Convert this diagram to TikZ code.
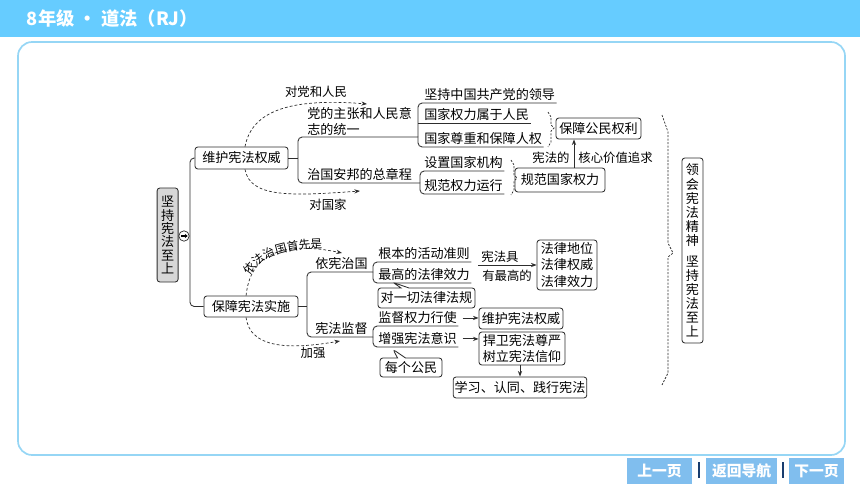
\documentclass[tikz,border=0pt]{standalone}
\usepackage{fontspec}
\setmainfont{Noto Sans CJK SC}
\usetikzlibrary{arrows.meta,shapes.callouts,decorations.text}
\definecolor{barblue}{RGB}{102,204,255}
\definecolor{frameblue}{RGB}{150,214,245}
\definecolor{btnblue}{RGB}{128,190,238}
\definecolor{sepblue}{RGB}{25,60,110}
\definecolor{ink}{RGB}{45,45,45}
\definecolor{greybox}{RGB}{215,215,215}
\tikzset{
  box/.style={draw=ink, fill=white, line width=0.6pt, rounded corners=2pt, inner sep=1pt, minimum height=0.525cm},
  lbl/.style={anchor=south west, inner xsep=1pt, inner ysep=1.2pt},
  brk/.style={draw=ink, line width=0.6pt, rounded corners=3pt},
  arr/.style={draw=ink, line width=0.6pt, -{Stealth[length=4pt,width=3pt]}},
  dsh/.style={draw=ink, line width=0.5pt, dash pattern=on 2pt off 1.5pt, -{Stealth[length=4pt,width=3pt]}},
  brc/.style={draw=ink, line width=0.5pt, dash pattern=on 1.5pt off 1pt},
  note/.style={font=\fontsize{8.8}{10}\selectfont, inner sep=1pt},
  btn/.style={fill=btnblue, text=white, font=\fontsize{10.5}{12}\selectfont\bfseries, minimum height=0.65cm, inner sep=0pt},
  vtxt/.style={align=center, inner sep=1pt}
}
\begin{document}
\begin{tikzpicture}[font=\fontsize{9.3}{10.7}\selectfont]
\useasboundingbox (0,0) rectangle (21.5,-12.1);
\fill[barblue] (0,0) rectangle (21.5,-0.925);
\node[anchor=west, text=white, font=\fontsize{13}{15}\selectfont\bfseries] (title) at (0.55,-0.475) {8年级 · 道法（RJ）};
\draw[frameblue, line width=1.2pt, rounded corners=10pt] (0.45,-1.05) rectangle (21.125,-11.375);
\node[btn, minimum width=1.625cm] (prev) at (16.49,-11.775) {上一页};
\node[btn, minimum width=1.775cm] (menu) at (18.54,-11.775) {返回导航};
\node[btn, minimum width=1.375cm] (next) at (20.41,-11.775) {下一页};
\fill[sepblue] (17.44,-11.55) rectangle (17.51,-11.95);
\fill[sepblue] (19.54,-11.55) rectangle (19.61,-11.95);

% root
\node[box, vtxt, fill=greybox, minimum width=0.525cm, minimum height=2.35cm, font={\fontsize{9.3}{9.5}\selectfont\lineskiplimit=-5pt\relax}] (jc) at (4.19,-5.875) {坚\\持\\宪\\法\\至\\上};
\node[circle, draw=ink, line width=0.5pt, minimum size=0.26cm, inner sep=0pt] (go) at (4.6,-5.9) {};
\draw[line width=0.8pt, -{Stealth[length=2pt,width=3pt]}] ([xshift=-2.2pt]go.center) -- ([xshift=2.6pt]go.center);
\node[box, minimum width=2.325cm, minimum height=0.55cm] (wh) at (6.0375,-3.95) {维护宪法权威};
\node[box, minimum width=2.35cm] (bs) at (6.275,-7.6625) {保障宪法实施};
\coordinate (spine) at (4.75,-5.9);
\draw[brk] (wh.west) -| (spine) |- (bs.west);

% upper half
\coordinate (j1) at (7.45,-3.95);
\coordinate (j2) at (10.45,-3.425);
\coordinate (j3) at (10.5,-4.575);
\draw[brk] (wh.east) -- (j1);
\draw[brk] (j1) |- (j2);
\draw[brk] (j1) |- (j3);
\node[lbl, align=left] (dz) at (7.64,-3.425) {党的主张和人民意\\志的统一};
\node[lbl] (zg) at (7.64,-4.575) {治国安邦的总章程};
\node[lbl] (t1) at (10.565,-2.575) {坚持中国共产党的领导};
\node[lbl] (t2) at (10.565,-3.075) {国家权力属于人民};
\node[lbl] (t3) at (10.565,-3.675) {国家尊重和保障人权};
\draw[brk] (j2) |- (t1.south east);
\draw[brk] (j2 |- t2.south) -- (t2.south east);
\draw[brk] (j2) |- (t3.south east);
\node[lbl] (sz) at (10.565,-4.275) {设置国家机构};
\node[lbl] (gy) at (10.565,-4.85) {规范权力运行};
\draw[brk] (j3) |- (sz.south east);
\draw[brk] (j3) |- (gy.south east);
\node[box, minimum width=2.125cm] (gm) at (14.9625,-3.2125) {保障公民权利};
\node[box, minimum width=2.25cm, minimum height=0.6cm] (gq) at (14.0,-4.5) {规范国家权力};
\draw[brc] (13.7,-2.8) -- (13.775,-2.925) -- (13.775,-3.125) -- (13.85,-3.2) -- (13.775,-3.275) -- (13.775,-3.55) -- (13.7,-3.675);
\draw[brc] (12.775,-4.0) -- (12.85,-4.125) -- (12.85,-4.375) -- (12.925,-4.45) -- (12.85,-4.525) -- (12.85,-4.75) -- (12.775,-4.875);
\draw[arr] ([xshift=0.35cm]gq.north) -- ([xshift=0.35cm]gq.north |- gm.south);
\node[note, anchor=east] (xfd) at (14.28,-3.95) {宪法的};
\node[note, anchor=west] (hx) at (14.42,-3.95) {核心价值追求};
\coordinate (e1) at (9.175,-2.6);
\coordinate (e2) at (9.0,-4.775);
\draw[dsh] ([xshift=2.5pt]wh.north) .. controls (6.3,-2.75) and (7.3,-2.45) .. (e1);
\draw[dsh] ([xshift=2.5pt]wh.south) .. controls (6.25,-4.95) and (7.3,-4.9) .. (e2);
\node[note] (dd) at (7.9,-2.3) {对党和人民};
\node[note] (dg) at (8.2,-5.125) {对国家};

% lower half
\coordinate (j4) at (7.675,-7.6625);
\coordinate (j5) at (9.325,-6.8);
\coordinate (j6) at (9.325,-8.425);
\draw[brk] (bs.east) -- (j4);
\draw[brk] (j4) |- (j5);
\draw[brk] (j4) |- (j6);
\node[lbl] (yx) at (7.84,-6.8) {依宪治国};
\node[lbl] (xj) at (7.84,-8.425) {宪法监督};
\node[lbl] (gb) at (9.415,-6.55) {根本的活动准则};
\node[lbl] (zf) at (9.415,-7.075) {最高的法律效力};
\draw[brk] (j5) |- (gb.south east);
\draw[brk] (j5) |- (zf.south east);
\node[box, rectangle callout, callout absolute pointer={(9.825,-7.06)}, callout pointer width=0.2cm, minimum width=2.425cm, minimum height=0.5cm] (dy) at (10.6625,-7.45) {对一切法律法规};
\node[box, align=center, minimum width=1.5cm, minimum height=1.25cm, font=\fontsize{9.3}{12}\selectfont] (fl) at (14.175,-6.625) {法律地位\\法律权威\\法律效力};
\coordinate (s0) at (11.95,-6.625);
\draw[arr] (s0) -- (fl.west);
\node[note] (jy) at (12.5,-6.425) {宪法具};
\node[note] (yz) at (12.675,-6.9) {有最高的};
\node[lbl] (jd) at (9.415,-8.15) {监督权力行使};
\node[lbl] (zq) at (9.415,-8.675) {增强宪法意识};
\draw[brk] (j6) |- (jd.south east);
\draw[brk] (j6) |- (zq.south east);
\node[box, minimum width=2.1cm] (wq) at (13.025,-7.9625) {维护宪法权威};
\node[box, align=center, minimum width=2.15cm, minimum height=0.825cm, font=\fontsize{9.3}{12}\selectfont] (hw) at (13.05,-8.7125) {捍卫宪法尊严\\树立宪法信仰};
\draw[arr] ([xshift=3pt]jd.east) -- (jd.east -| wq.west);
\draw[arr] ([xshift=3pt]zq.east) -- (zq.east -| hw.west);
\node[box, rectangle callout, callout absolute pointer={(9.825,-8.735)}, callout pointer width=0.2cm, minimum width=1.55cm, minimum height=0.475cm] (mg) at (10.275,-9.1875) {每个公民};
\node[box, minimum width=3.15cm] (xx) at (13.0,-9.6875) {学习、认同、践行宪法};
\draw[arr] (xx.north |- hw.south) -- (xx.north);
\coordinate (e3) at (8.55,-6.325);
\coordinate (e4) at (8.5,-8.525);
\draw[dsh] ([xshift=-3.5pt]bs.north) .. controls (6.25,-6.4) and (7.0,-6.0) .. (e3);
\draw[dsh] ([xshift=-3.5pt]bs.south) .. controls (6.25,-8.7) and (7.2,-8.75) .. (e4);
\path[decorate, decoration={text along path, text={|\fontsize{8.3}{10}\selectfont|依法治国首先是}}] (6.24,-6.9) .. controls (6.55,-6.4) and (7.0,-6.22) .. (8.25,-6.2);
\node[note] (jq) at (7.825,-8.825) {加强};

% right side
\draw[brc] (16.55,-2.875) -- (16.7,-3.3) -- (16.7,-6.075) -- (16.825,-6.325) -- (16.7,-6.425) -- (16.7,-9.325) -- (16.55,-9.625);
\node[box, vtxt, minimum width=0.525cm, minimum height=4.625cm, font={\fontsize{9.3}{10}\selectfont\lineskiplimit=-5pt\relax}] (lh) at (17.3125,-6.2625) {领\\会\\宪\\法\\精\\神\\[5pt]坚\\持\\宪\\法\\至\\上};
\end{tikzpicture}
\end{document}
